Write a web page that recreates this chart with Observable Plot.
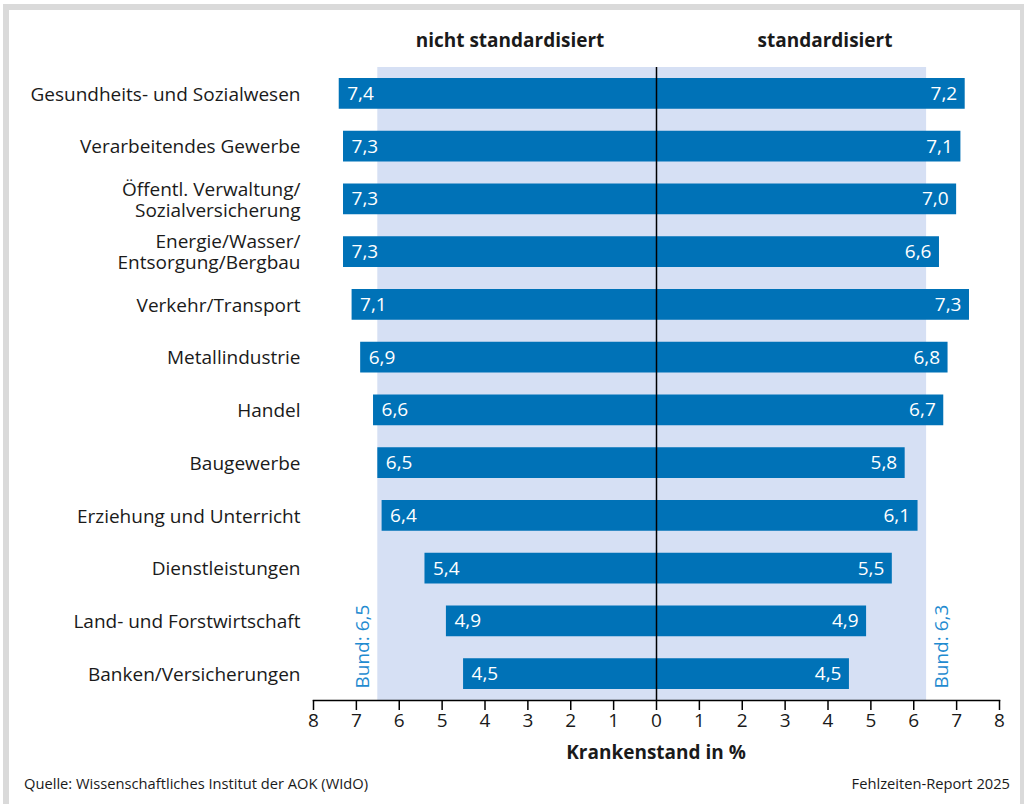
<!DOCTYPE html>
<html>
<head>
<meta charset="utf-8">
<script src="https://cdn.jsdelivr.net/npm/d3@7"></script>
<script src="https://cdn.jsdelivr.net/npm/@observablehq/plot@0.6"></script>
<style>
  html, body { margin: 0; padding: 0; background: #fff; }
  #wrap { position: relative; width: 1024px; height: 804px; overflow: hidden; font-family: "Open Sans", Lato, sans-serif; color: #1a1a1a; }
  #frame { position: absolute; left: 3px; top: 4px; width: 1011px; height: 794px; border: 6px solid #dadada; border-right-width: 4px; border-bottom-width: 3px; }
  #chart { position: absolute; left: 0; top: 0; }
  .t { position: absolute; white-space: nowrap; }
  .colt { font-weight: 700; font-size: 19px; top: 27px; transform: translateX(-50%); }
  .xlab { font-weight: 700; font-size: 19px; top: 739px; transform: translateX(-50%); }
  .foot { font-size: 14.7px; top: 773px; }
</style>
</head>
<body>
<div id="wrap">
  <div id="frame"></div>
  <div id="chart"></div>
  <div class="t colt" style="left:510px">nicht standardisiert</div>
  <div class="t colt" style="left:825px">standardisiert</div>
  <div class="t xlab" style="left:656px">Krankenstand in %</div>
  <div class="t foot" style="left:24px">Quelle: Wissenschaftliches Institut der AOK (WIdO)</div>
  <div class="t foot" style="right:14px">Fehlzeiten-Report 2025</div>
</div>
<script>
const categories = [
  "Gesundheits- und Sozialwesen",
  "Verarbeitendes Gewerbe",
  "Öffentl. Verwaltung/\nSozialversicherung",
  "Energie/Wasser/\nEntsorgung/Bergbau",
  "Verkehr/Transport",
  "Metallindustrie",
  "Handel",
  "Baugewerbe",
  "Erziehung und Unterricht",
  "Dienstleistungen",
  "Land- und Forstwirtschaft",
  "Banken/Versicherungen"
];
const nichtStandardisiert = [7.4, 7.3, 7.3, 7.3, 7.1, 6.9, 6.6, 6.5, 6.4, 5.4, 4.9, 4.5];
const standardisiert      = [7.2, 7.1, 7.0, 6.6, 7.3, 6.8, 6.7, 5.8, 6.1, 5.5, 4.9, 4.5];
const bundValues = [6.5, 6.3];   // nicht standardisiert, standardisiert
const xTicks = [-8,-7,-6,-5,-4,-3,-2,-1,0,1,2,3,4,5,6,7,8];

const rows = categories.map((c, i) => ({cat: c, left: nichtStandardisiert[i], right: standardisiert[i]}));
const bund = [{side: -1, value: bundValues[0]}, {side: 1, value: bundValues[1]}];
const fmt = v => v.toFixed(1).replace(".", ",");

const barColor = "#0072b7";
const bandColor = "#d6e0f4";
const bundColor = "#1f8bd0";
const font = "'Open Sans', Lato, sans-serif";

const chart = Plot.plot({
  width: 1024,
  height: 804,
  marginTop: 67,
  marginBottom: 104,
  marginLeft: 313,
  marginRight: 25,
  style: {fontFamily: font, fontSize: "19px", color: "#1a1a1a", background: "transparent"},
  x: {domain: [-8, 8], label: null},
  y: {domain: categories, padding: 0, round: false, label: null},
  marks: [
    Plot.rectX(bund, {x1: () => 0, x2: d => d.side * d.value, fill: bandColor}),
    Plot.barX(rows, {x1: () => 0, x2: d => -d.left, y: "cat", fill: barColor, insetTop: 11, insetBottom: 11}),
    Plot.barX(rows, {x1: () => 0, x2: d => d.right, y: "cat", fill: barColor, insetTop: 11, insetBottom: 11}),
    Plot.ruleX([0], {stroke: "#000", strokeWidth: 1.5}),
    Plot.text(rows, {x: d => -d.left, y: "cat", text: d => fmt(d.left), textAnchor: "start", dx: 8, fill: "#fff", fontSize: 19}),
    Plot.text(rows, {x: d => d.right, y: "cat", text: d => fmt(d.right), textAnchor: "end", dx: -8, fill: "#fff", fontSize: 19}),
    Plot.text(bund.filter(d => d.side < 0), {x: d => d.side * d.value, frameAnchor: "bottom", text: d => "Bund: " + fmt(d.value), rotate: -90, textAnchor: "start", dx: -9, dy: -12, fill: bundColor, fontSize: 19}),
    Plot.text(bund.filter(d => d.side > 0), {x: d => d.side * d.value, frameAnchor: "bottom", text: d => "Bund: " + fmt(d.value), rotate: -90, textAnchor: "start", dx: 21, dy: -12, fill: bundColor, fontSize: 19}),
    Plot.frame({anchor: "bottom", stroke: "#000", strokeWidth: 1.5}),
    Plot.axisX({ticks: xTicks, tickFormat: d => Math.abs(d), tickSize: 10, tickPadding: 3, fontSize: 19, label: null, stroke: "#000", strokeWidth: 1.5}),
    Plot.axisY({tickSize: 0, tickPadding: 13, fontSize: 19, lineHeight: 1.1, label: null})
  ]
});
document.getElementById("chart").appendChild(chart);
</script>
</body>
</html>
